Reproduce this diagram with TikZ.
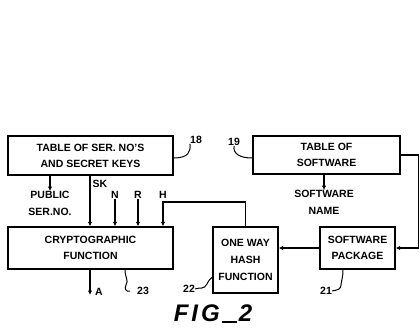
\documentclass[tikz,border=0pt]{standalone}
\usepackage{fontspec}
\setmainfont{Liberation Sans}
\usetikzlibrary{arrows.meta}
\begin{document}
\begin{tikzpicture}[x=1pt,y=-1pt,
  every node/.style={font=\fontsize{10.5}{12}\selectfont\bfseries, inner sep=0pt, align=center},
  blk/.style={draw, line width=1.4pt, minimum width=#1},
  ln/.style={line width=1.3pt},
  arr/.style={ln, -{Latex[length=4.5pt,width=4.5pt]}},
  lead/.style={line width=1pt}]
\useasboundingbox (0,0) rectangle (420,334);
% boxes
\node[blk, minimum height=39pt] (tab1) at (90.5,155.5) [minimum width=165pt] {TABLE OF SER. NO'S\\[4pt]AND SECRET KEYS};
\node[blk, minimum height=38pt, minimum width=147pt] (tab2) at (326.5,155) {TABLE OF\\[4pt]SOFTWARE};
\node[blk, minimum height=42pt, minimum width=165pt] (crypt) at (90.5,248) {CRYPTOGRAPHIC\\[4pt]FUNCTION};
\node[blk, minimum height=66pt, minimum width=65pt] (hash) at (245.5,260) {ONE WAY\\[5pt]HASH\\[5pt]FUNCTION};
\node[blk, minimum height=42pt, minimum width=75pt] (pkg) at (357.5,248) {SOFTWARE\\[4pt]PACKAGE};
% signal labels
\node (pub) at (50,203.5) {PUBLIC\\[5pt]SER.NO.};
\node (sname) at (324,202.5) {SOFTWARE\\[5pt]NAME};
\node (sk) at (100,184) {SK};
\node (n) at (115,195) {N};
\node (r) at (138,195) {R};
\node (h) at (163,195) {H};
\node (a) at (99,292) {A};
\coordinate (hc) at (163,202);
\coordinate (aend) at (90,295);
% connectors
\draw[arr] (tab1.south -| pub) -- (pub.north);
\draw[arr] (tab2.south -| sname) -- (sname.north);
\draw[arr] (tab1.south -| 90,0) -- (crypt.north -| 90,0);
\draw[arr] (n.south) -- (n.south |- crypt.north);
\draw[arr] (r.south) -- (r.south |- crypt.north);
\draw[arr] (hash.north) |- (hc) -- (hc |- crypt.north);
\draw[arr] (crypt.south -| aend) -- (aend);
\draw[arr] (tab2.east) -- ++(18,0) |- (pkg.east);
\draw[arr] (pkg.west) -- (pkg.west -| hash.east);
% reference numerals
\node (l18) at (196,140) {18};
\node (l19) at (234,142) {19};
\node (l23) at (143,291) {23};
\node (l22) at (189,289) {22};
\node (l21) at (326,291) {21};
\node at (213,314) {\fontsize{24}{24}\selectfont\itshape\bfseries F\kern3pt I\kern3pt G\kern2pt\rule[-1pt]{15pt}{2pt}\kern2pt 2};
\draw[lead] (tab1.east |- 0,158) .. controls (188,158) and (191,152) .. (l18.south west);
\draw[lead] (tab2.west |- 0,158) .. controls (240,158) and (233,154) .. (l19.south);
\draw[lead] (crypt.south -| 125,0) .. controls (125,278) and (129,280) .. (126,285) .. controls (124,289) and (126,292) .. (130,291);
\draw[lead] (l22.east) .. controls (200,287) and (204,290) .. (207,284) .. controls (209,280) and (210,279) .. (hash.west |- 0,277);
\draw[lead] (pkg.south -| 343,0) .. controls (343,278) and (341,282) .. (341,285) .. controls (341,289) and (338,290) .. (l21.east);
\end{tikzpicture}
\end{document}
